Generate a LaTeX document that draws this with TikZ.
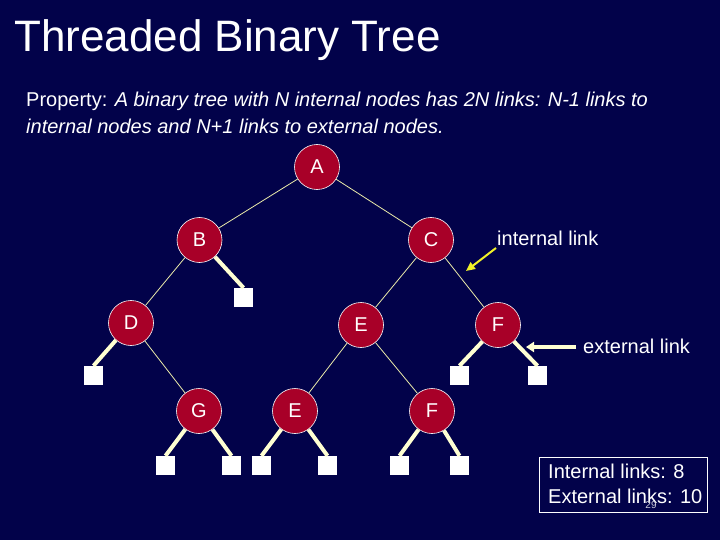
\documentclass[tikz,border=0pt]{standalone}
\usepackage{fontspec}
\setmainfont{Liberation Sans}
\usetikzlibrary{arrows.meta}
\definecolor{bgnavy}{RGB}{2,2,74}
\definecolor{nodered}{RGB}{168,0,40}
\definecolor{intline}{RGB}{235,235,170}
\definecolor{extline}{RGB}{255,255,210}
\definecolor{arrowyellow}{RGB}{240,240,40}
\begin{document}
\begin{tikzpicture}[x=1pt,y=-1pt,
  tnode/.style={circle,draw=white,line width=0.6pt,fill=nodered,minimum size=45pt,inner sep=0pt,text=white,font=\fontsize{20}{24}\selectfont},
  extnode/.style={rectangle,fill=white,minimum size=19pt,inner sep=0pt},
  intlink/.style={draw=intline,line width=0.8pt},
  extlink/.style={draw=extline,line width=4pt},
  lbl/.style={text=white,font=\fontsize{20}{24}\selectfont,inner sep=0pt}
]
\fill[bgnavy] (0,0) rectangle (720,540);
\useasboundingbox (0,0) rectangle (720,540);

% title and property text
\node[lbl,anchor=base west,font=\fontsize{44}{50}\selectfont] (title) at (14,52) {Threaded Binary Tree};
\node[lbl,anchor=base west] (prop1) at (26,107) {Property: \textit{A binary tree with N internal nodes has 2N links: N-1 links to}};
\node[lbl,anchor=base west] (prop2) at (26,134) {\textit{internal nodes and N+1 links to external nodes.}};

% tree nodes
\node[tnode] (A) at (317,167) {A};
\node[tnode] (B) at (199.5,240) {B};
\node[tnode] (C) at (431,240) {C};
\node[tnode] (D) at (131,323) {D};
\node[tnode] (E) at (361,325) {E};
\node[tnode] (F) at (498,325) {F};
\node[tnode] (G) at (199,411) {G};
\node[tnode] (E2) at (295,411) {E};
\node[tnode] (F2) at (432,411) {F};

% external nodes
\node[extnode] (xB) at (243.5,297.5) {};
\node[extnode] (xD) at (93.5,375.5) {};
\node[extnode] (xF1) at (459.5,375.5) {};
\node[extnode] (xF2) at (537.5,375.5) {};
\node[extnode] (xG1) at (165.5,465.5) {};
\node[extnode] (xG2) at (231.5,465.5) {};
\node[extnode] (xE1) at (261.5,465.5) {};
\node[extnode] (xE2) at (327.5,465.5) {};
\node[extnode] (xH1) at (399.5,465.5) {};
\node[extnode] (xH2) at (459.5,465.5) {};

% internal links
\draw[intlink] (A) -- (B);
\draw[intlink] (A) -- (C);
\draw[intlink] (B) -- (D);
\draw[intlink] (C) -- (E);
\draw[intlink] (C) -- (F);
\draw[intlink] (D) -- (G);
\draw[intlink] (E) -- (E2);
\draw[intlink] (E) -- (F2);

% external links
\draw[extlink] (B) -- (xB.north);
\draw[extlink] (D) -- (xD.north);
\draw[extlink] (F) -- (xF1.north);
\draw[extlink] (F) -- (xF2.north);
\draw[extlink] (G) -- (xG1.north);
\draw[extlink] (G) -- (xG2.north);
\draw[extlink] (E2) -- (xE1.north);
\draw[extlink] (E2) -- (xE2.north);
\draw[extlink] (F2) -- (xH1.north);
\draw[extlink] (F2) -- (xH2.north);

% annotations
\node[lbl,anchor=base west] (intlbl) at (497,245) {internal link};
\node[lbl,anchor=base west] (extlbl) at (583,353) {external link};
\coordinate (ia0) at (496,248);
\coordinate (ia1) at (466,271);
\draw[draw=arrowyellow,line width=2pt,-{Triangle[length=9pt,width=8pt]}] (ia0) -- (ia1);
\coordinate (ea0) at (576,347);
\coordinate (ea1) at (526,347);
\draw[draw=extline,line width=3.5pt,-{Triangle[length=8pt,width=10pt]}] (ea0) -- (ea1);

% summary box
\node[draw=white,line width=0.8pt,minimum width=168pt,minimum height=55pt,anchor=north west] (box) at (539,457) {};
\node[lbl,anchor=base west] (sum1) at (548,478) {Internal links: 8};
\node[lbl,anchor=base west] (sum2) at (548,503) {External links: 10};
\node[text=white!80!bgnavy,font=\fontsize{10}{12}\selectfont,inner sep=0pt] (pg) at (651,505) {29};
\end{tikzpicture}
\end{document}
